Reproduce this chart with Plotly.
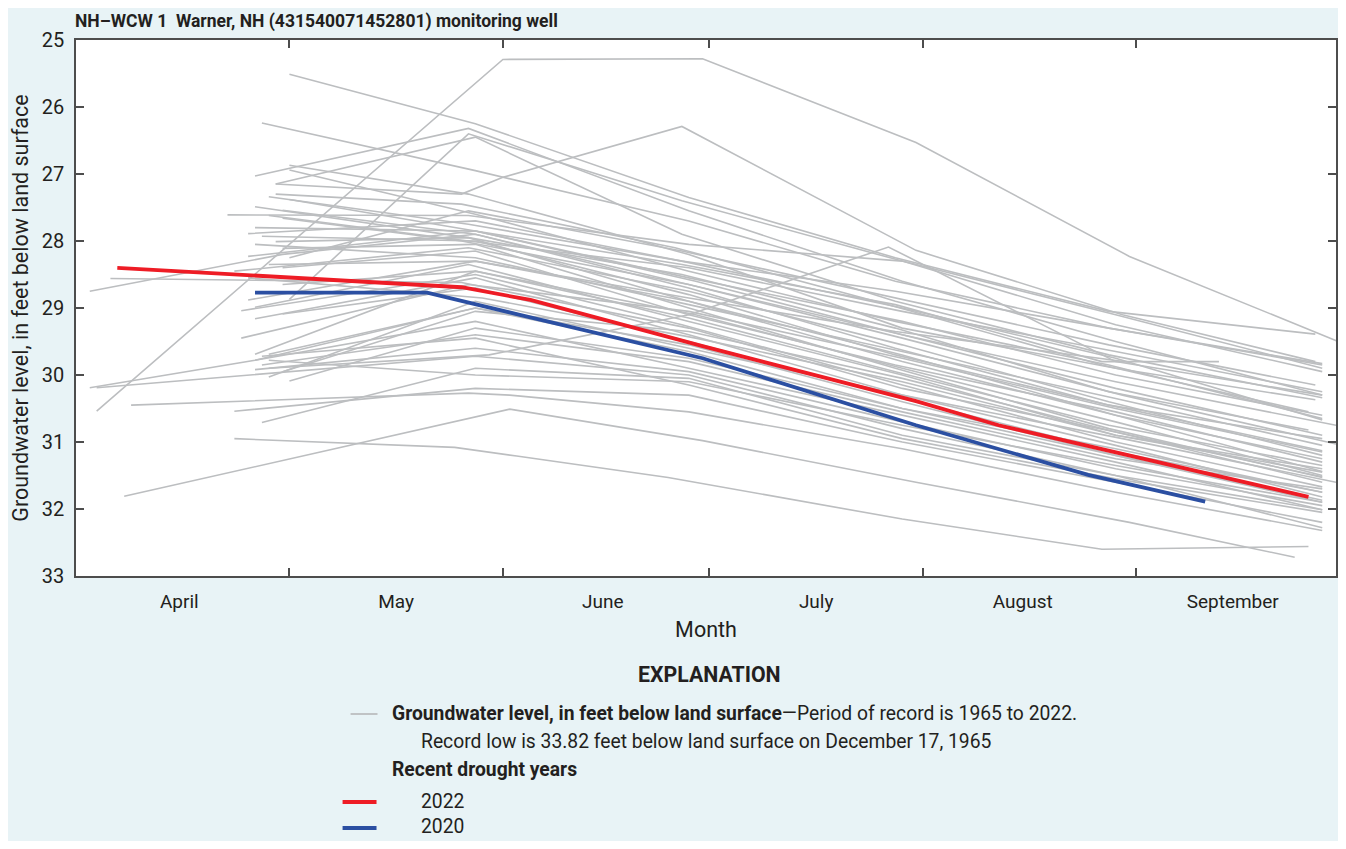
import plotly.graph_objects as go

YEAR = "2001"

# ---- data (month-day, feet below land surface) ----
gray_dates = [
    ["05-01", "05-28", "06-28", "07-28", "08-28", "09-27"],
    ["04-03", "06-01", "06-30", "07-31", "08-31", "10-02"],
    ["04-27", "05-28", "06-28", "07-28", "08-28", "09-28"],
    ["04-29", "05-26", "06-01", "06-27", "07-31", "08-30", "09-27"],
    ["05-01", "05-27", "06-27", "07-29", "08-29", "09-28"],
    ["04-26", "05-27", "06-28", "07-29", "08-29", "09-28"],
    ["04-29", "05-28", "06-27", "07-28", "08-28", "09-28"],
    ["05-01", "05-27", "06-28", "07-29", "08-29", "09-27"],
    ["05-01", "05-28", "06-28", "07-28", "08-28", "09-28"],
    ["04-28", "05-27", "06-27", "07-29", "08-29", "09-28"],
    ["05-01", "05-28", "06-29", "07-29", "08-29", "09-30"],
    ["04-26", "05-27", "06-27", "07-28", "08-28", "09-26"],
    ["04-22", "05-27", "06-28", "07-29", "08-29", "09-28"],
    ["04-30", "05-28", "06-28", "07-28", "08-28", "09-28"],
    ["04-30", "05-26", "06-28", "07-29", "08-30", "09-30"],
    ["04-25", "05-28", "06-27", "07-28", "08-28", "09-28"],
    ["04-27", "05-28", "06-28", "07-28", "08-28", "09-28"],
    ["04-29", "05-27", "06-28", "07-29", "08-29", "09-28"],
    ["04-30", "05-28", "06-28", "07-28", "08-28", "09-28"],
    ["04-25", "05-28", "06-28", "07-29", "08-29", "09-28"],
    ["04-23", "05-27", "06-28", "07-29", "08-28", "09-28"],
    ["04-30", "05-28", "06-28", "07-28", "08-29", "09-28"],
    ["04-02", "04-30", "05-28", "06-28", "07-29", "08-29", "09-28"],
    ["04-05", "05-26", "06-28", "07-29", "08-29", "09-28"],
    ["04-25", "05-28", "06-28", "07-29", "08-29", "09-28"],
    ["04-26", "05-27", "06-28", "07-29", "08-29", "09-28"],
    ["04-24", "05-28", "06-27", "07-29", "08-29", "09-28"],
    ["04-26", "05-28", "06-28", "07-29", "08-29", "09-28"],
    ["04-30", "05-28", "06-28", "07-29", "08-29", "09-28"],
    ["04-26", "05-28", "06-29", "07-29", "08-29", "09-28"],
    ["04-28", "05-28", "06-28", "07-29", "08-29", "09-28"],
    ["04-26", "05-28", "06-28", "07-29", "08-29", "09-28"],
    ["04-28", "05-28", "06-28", "07-29", "08-30", "09-30"],
    ["05-01", "05-28", "06-28", "07-29", "08-29", "09-28"],
    ["04-26", "05-28", "06-28", "07-29", "08-29", "09-28"],
    ["04-02", "04-26", "05-28", "06-28", "07-29", "08-29", "09-28"],
    ["04-03", "05-28", "06-28", "07-29", "08-29", "09-28"],
    ["04-08", "05-27", "06-02", "06-28", "07-29", "08-29", "09-28"],
    ["04-07", "06-02", "06-30", "07-31", "08-31", "09-24"],
    ["04-23", "05-25", "06-03", "06-25", "07-29", "08-27", "09-26"],
    ["04-23", "05-28", "06-28", "07-29", "08-29", "09-28"],
    ["04-27", "05-28", "06-28", "07-29", "08-29", "09-28"],
    ["04-28", "05-28", "06-28", "07-29", "08-29", "09-28"],
    ["04-28", "05-30", "06-28", "07-27", "08-29", "09-28"],
    ["04-26", "05-28", "06-28", "07-29", "08-29", "09-28"],
    ["04-28", "05-27", "06-28", "07-29", "08-29", "09-28"],
    ["04-30", "05-28", "06-28", "07-29", "08-29", "09-28"],
    ["04-27", "05-28", "06-28", "07-29", "08-29", "09-28"],
    ["05-01", "05-27", "06-27", "07-28", "08-28", "09-27"],
    ["04-25", "05-29", "06-29", "07-29", "08-29", "09-28"],
    ["04-29", "05-26", "06-26", "07-27", "08-27", "09-26"],
    ["04-24", "05-27", "06-28", "07-29", "08-29", "09-28"],
    ["04-30", "05-28", "06-28", "07-28", "08-28", "09-28"],
    ["04-26", "05-28", "06-27", "07-28", "08-27", "09-13"],
    ["04-28", "05-28", "06-28", "07-28", "08-31"],
    ["04-27", "05-28", "06-28", "07-29", "08-29", "09-28"],
]
gray_levels = [
    [25.51, 26.25, 27.35, 28.25, 29.05, 29.39],
    [30.54, 25.29, 25.28, 26.53, 28.23, 29.57],
    [26.24, 26.95, 27.70, 28.60, 29.30, 29.83],
    [27.15, 27.30, 27.05, 26.29, 28.14, 29.10, 29.80],
    [28.87, 26.40, 27.40, 28.30, 29.10, 29.90],
    [27.03, 26.32, 27.55, 28.60, 29.50, 30.30],
    [27.15, 26.45, 27.90, 28.90, 29.70, 30.34],
    [26.87, 27.30, 28.20, 29.30, 29.90, 30.37],
    [26.94, 27.60, 28.45, 29.20, 29.85, 30.65],
    [27.34, 27.75, 28.30, 29.00, 29.75, 30.67],
    [27.38, 27.85, 28.60, 29.40, 30.10, 30.75],
    [27.49, 27.95, 28.50, 29.30, 30.25, 30.82],
    [27.61, 27.62, 28.05, 28.30, 29.25, 29.95],
    [27.54, 27.90, 28.70, 29.60, 30.45, 30.95],
    [27.66, 28.00, 28.65, 29.45, 30.30, 31.03],
    [27.89, 27.70, 28.30, 28.75, 29.30, 29.85],
    [27.93, 28.00, 28.80, 29.70, 30.45, 31.13],
    [28.01, 27.95, 28.90, 29.80, 30.60, 31.44],
    [28.11, 28.05, 29.00, 29.90, 30.80, 31.53],
    [28.23, 27.85, 28.55, 29.20, 30.00, 30.60],
    [28.45, 28.10, 28.75, 29.55, 30.40, 31.20],
    [28.40, 28.15, 29.10, 29.85, 30.55, 31.30],
    [28.75, 28.20, 27.90, 28.65, 29.40, 30.20, 30.90],
    [28.56, 28.62, 29.30, 30.20, 30.85, 31.60],
    [28.88, 28.30, 28.90, 29.70, 30.60, 31.25],
    [28.99, 28.35, 29.20, 30.00, 30.90, 31.45],
    [29.04, 28.50, 29.25, 30.15, 31.00, 31.67],
    [29.16, 28.55, 29.40, 30.30, 31.05, 31.82],
    [29.09, 28.70, 29.50, 30.35, 31.15, 31.75],
    [29.69, 28.45, 29.10, 29.90, 30.70, 31.50],
    [29.69, 29.00, 29.55, 30.40, 31.20, 31.87],
    [29.78, 29.20, 29.90, 30.60, 31.30, 32.01],
    [30.03, 28.90, 29.60, 30.30, 30.95, 31.60],
    [30.09, 29.30, 29.75, 30.50, 31.10, 31.75],
    [29.92, 29.60, 29.95, 30.70, 31.40, 31.95],
    [30.19, 29.78, 29.00, 29.65, 30.50, 31.20, 31.90],
    [30.19, 29.72, 30.00, 30.80, 31.50, 32.28],
    [30.45, 30.27, 30.30, 30.55, 31.10, 31.75, 32.32],
    [31.81, 30.51, 30.98, 31.60, 32.20, 32.72],
    [30.95, 31.08, 31.21, 31.53, 32.15, 32.60, 32.56],
    [30.54, 30.20, 30.30, 31.00, 31.60, 32.20],
    [30.71, 29.90, 30.05, 30.90, 31.50, 32.01],
    [29.78, 30.00, 30.10, 30.75, 31.35, 31.90],
    [29.90, 29.70, 29.10, 28.09, 29.80, 30.30],
    [28.05, 28.25, 28.95, 29.65, 30.35, 31.05],
    [27.62, 28.00, 28.40, 29.05, 29.65, 30.25],
    [29.95, 29.05, 29.35, 30.05, 30.85, 31.52],
    [29.72, 29.45, 30.15, 30.95, 31.55, 32.05],
    [28.25, 27.55, 28.15, 28.85, 29.55, 30.15],
    [28.55, 28.85, 29.45, 30.10, 30.90, 31.40],
    [27.30, 27.45, 28.10, 28.95, 29.85, 30.55],
    [29.45, 28.65, 29.05, 29.75, 30.50, 31.15],
    [28.65, 28.45, 29.15, 29.95, 30.75, 31.35],
    [27.80, 27.85, 28.35, 28.95, 29.80, 29.80],
    [28.35, 28.30, 28.85, 29.35, 29.81],
    [29.85, 29.40, 29.80, 30.55, 31.25, 31.70],
]

dates_2022 = ["04-06", "05-26", "06-05", "06-30", "07-31", "08-12", "09-26"]
levels_2022 = [28.40, 28.69, 28.88, 29.57, 30.39, 30.75, 31.82]

dates_2020 = ["04-26", "05-21", "06-03", "06-30", "07-31", "08-11", "08-25", "09-11"]
levels_2020 = [28.77, 28.77, 29.09, 29.75, 30.75, 31.08, 31.49, 31.89]

month_boundaries = ["05-01", "06-01", "07-01", "08-01", "09-01"]
month_label_pos = ["04-15", "05-16 12:00", "06-15 12:00", "07-16 12:00", "08-15 12:00", "09-15"]
month_labels = ["April", "May", "June", "July", "August", "September"]
y_ticks = [25, 26, 27, 28, 29, 30, 31, 32, 33]
x_range = ["03-31", "09-30"]


def d(s):
    return f"{YEAR}-{s}"


FONT = "Roboto, Liberation Sans, Arial, sans-serif"
GRAY = "#bcbec0"
RED = "#ee1c25"
BLUE = "#2b4fa2"
AXIS = "#4d4d4d"
TXT = "#231f20"

fig = go.Figure()
for ds, vs in zip(gray_dates, gray_levels):
    fig.add_trace(go.Scatter(x=[d(s) for s in ds], y=vs, mode="lines",
                             line=dict(color=GRAY, width=1.6),
                             showlegend=False, hoverinfo="skip"))
fig.add_trace(go.Scatter(x=[d(s) for s in dates_2020], y=levels_2020, mode="lines",
                         line=dict(color=BLUE, width=3.8), showlegend=False))
fig.add_trace(go.Scatter(x=[d(s) for s in dates_2022], y=levels_2022, mode="lines",
                         line=dict(color=RED, width=3.8), showlegend=False))
# invisible anchor trace for the month-label axis
fig.add_trace(go.Scatter(x=[d(s) for s in month_label_pos], y=[None] * 6, xaxis="x2",
                         mode="lines", showlegend=False, hoverinfo="skip"))

# The page body has an 8 px margin; the figure fills the remaining 1330 x 833.
OFF = 8
FIG_W, FIG_H = 1346 - 2 * OFF, 849 - 2 * OFF
PLOT_L, PLOT_T, PLOT_B = 76, 40, 576
PLOT_R = 1346 - OFF
W = PLOT_R - PLOT_L
H = PLOT_B - PLOT_T

xr = [d(s) for s in x_range]
fig.update_layout(
    autosize=True,
    margin=dict(l=PLOT_L - OFF, r=0, t=PLOT_T - OFF, b=FIG_H - (PLOT_B - OFF)),
    paper_bgcolor="#e8f3f6",
    plot_bgcolor="white",
    font=dict(family=FONT, color=TXT, size=19),
    xaxis=dict(type="date", range=xr, tickvals=[d(s) for s in month_boundaries],
               showticklabels=False, ticks="inside", ticklen=8, tickwidth=1.5,
               tickcolor=AXIS, showline=True, linecolor=AXIS, linewidth=1.5,
               mirror="ticks", showgrid=False, zeroline=False),
    xaxis2=dict(type="date", range=xr, overlaying="x", side="bottom", anchor="y",
                tickvals=[d(s) for s in month_label_pos], ticktext=month_labels,
                ticks="", showline=False, showgrid=False, zeroline=False,
                tickfont=dict(size=19), ticklabelstandoff=12,
                title=dict(text="Month", font=dict(size=21.5), standoff=9)),
    yaxis=dict(range=[33, 25], tickvals=y_ticks, ticks="inside", ticklen=8,
               tickwidth=1.5, tickcolor=AXIS, showline=True, linecolor=AXIS,
               linewidth=1.5, mirror="ticks", showgrid=False, zeroline=False,
               tickfont=dict(size=20), ticklabelstandoff=6,
               title=dict(text="Groundwater level, in feet below land surface",
                          font=dict(size=21.5), standoff=10)),
    title=dict(text="<b>NH\u2013WCW 1  Warner, NH (431540071452801) monitoring well</b>",
               x=(75 - OFF) / FIG_W, xanchor="left", xref="container",
               y=1 - (21 - OFF) / FIG_H, yanchor="middle", yref="container",
               font=dict(size=17.5, color=TXT)),
)


# ---- explanation (legend); screen pixel -> paper fraction ----
def px(x):
    return (x - PLOT_L) / W


def py(y):
    return (PLOT_B - y) / H


LEG = 19.3
ann = [
    (711, 674, "<b>EXPLANATION</b>", "center", 21.3),
    (390, 713, "<b>Groundwater level, in feet below land surface</b>\u2014Period of record is 1965 to 2022.", "left", LEG),
    (420, 741, "Record low is 33.82 feet below land surface on December 17, 1965", "left", LEG),
    (390, 769, "<b>Recent drought years</b>", "left", LEG),
    (420, 801, "2022", "left", LEG),
    (420, 827, "2020", "left", LEG),
]
for x, y, t, a, s in ann:
    fig.add_annotation(x=px(x), y=py(y), xref="paper", yref="paper", text=t,
                       showarrow=False, xanchor=a, yanchor="middle",
                       font=dict(size=s, color=TXT, family=FONT))

for x0, x1, y, c, w in [(351, 378, 714, GRAY, 1.8), (343, 377, 802, RED, 4), (343, 377, 828, BLUE, 4)]:
    fig.add_shape(type="line", xref="paper", yref="paper", x0=px(x0), x1=px(x1),
                  y0=py(y), y1=py(y), line=dict(color=c, width=w))

fig.write_html("out.html")
